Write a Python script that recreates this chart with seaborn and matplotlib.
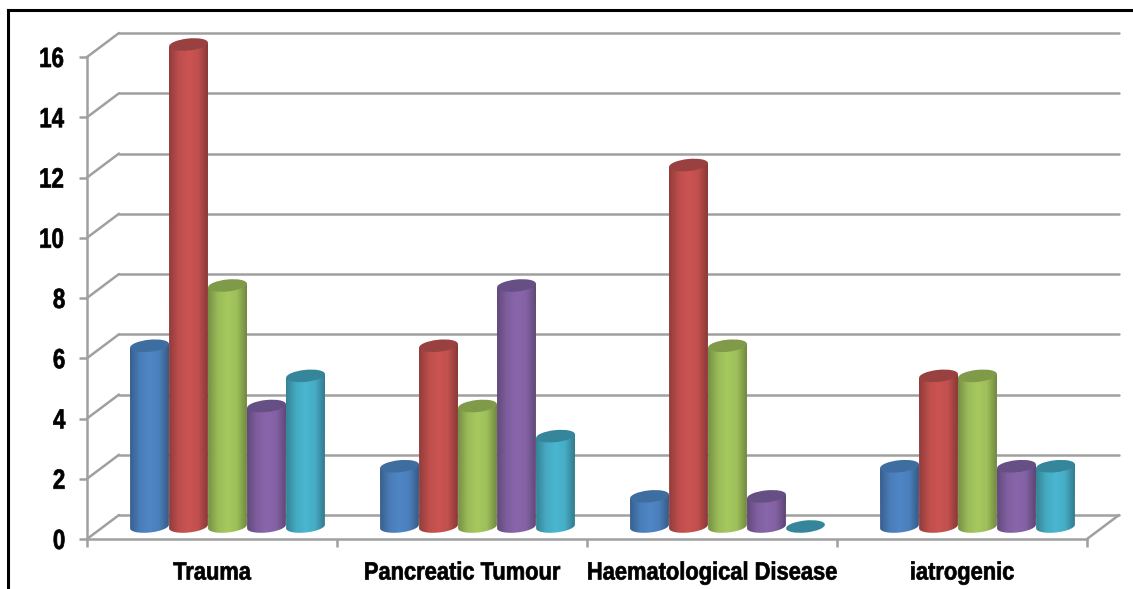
import numpy as np
import pandas as pd
import matplotlib
matplotlib.use('Agg')
import matplotlib.pyplot as plt
import matplotlib.patheffects as pe
import seaborn as sns
from matplotlib.colors import LinearSegmentedColormap, to_rgb
from matplotlib.lines import Line2D
from matplotlib.patches import Ellipse
from matplotlib.path import Path
from matplotlib.transforms import Affine2D, IdentityTransform

categorias = ['Trauma', 'Pancreatic Tumour', 'Haematological Disease', 'iatrogenic']
serie_1 = [6, 2, 1, 2]
serie_2 = [16, 6, 12, 5]
serie_3 = [8, 4, 6, 5]
serie_4 = [4, 8, 1, 2]
serie_5 = [5, 3, 0, 2]
ticks_y = [0, 2, 4, 6, 8, 10, 12, 14, 16]
colores = ['#4F86C6', '#CB5452', '#A6C95F', '#8966AB', '#4AB6D0']
colores_tapa = ['#3E6E9F', '#994140', '#7F9A49', '#664F85', '#35859B']

GRIS = '#A0A0A0'
W, H = 1133, 589


# No hay fuente narrow instalada: angosto el texto en horizontal y lo engroso un poco
class Angosto(pe.AbstractPathEffect):
    def __init__(self, escala):
        super().__init__()
        self.escala = escala

    def draw_path(self, renderer, gc, tpath, affine, rgbFace=None):
        ext = tpath.get_extents()
        cx = (ext.x0 + ext.x1) / 2
        nuevo = Affine2D().translate(-cx, 0).scale(self.escala, 1).translate(cx, 0) + affine
        gc0 = renderer.new_gc()
        gc0.copy_properties(gc)
        gc0.set_linewidth(0.5)
        gc0.set_foreground('black')
        renderer.draw_path(gc0, tpath, nuevo, rgbFace)
        gc0.restore()


df = pd.DataFrame({'categoria': categorias, 's1': serie_1, 's2': serie_2,
                   's3': serie_3, 's4': serie_4, 's5': serie_5})
df = pd.melt(df, id_vars=['categoria'], var_name='serie', value_name='valor')

sns.set_theme(style='white')
plt.rcParams['font.family'] = ['Liberation Sans', 'DejaVu Sans']

fig = plt.figure(figsize=(W / 100, H / 100), dpi=100)
ax = fig.add_axes([87 / W, (H - 539) / H, 1000 / W, 482 / H])

sns.barplot(data=df, x='categoria', y='valor', hue='serie', palette=colores,
            width=0.78, gap=0, legend=False, ax=ax)
ax.set_xlim(-0.5, 3.5)
ax.set_ylim(0, 16)
ax.set_xlabel('')
ax.set_ylabel('')

# Ejes y ticks
for lado in ['top', 'right']:
    ax.spines[lado].set_visible(False)
for lado in ['left', 'bottom']:
    ax.spines[lado].set_color(GRIS)
    ax.spines[lado].set_linewidth(1.8)
ax.set_yticks(ticks_y)
ax.tick_params(axis='y', length=5.5, width=1.8, color=GRIS, pad=9, left=True,
               labelsize=20, labelcolor='black')
ax.tick_params(axis='x', which='major', length=0, pad=15.5, labelsize=18, labelcolor='black')
ax.set_xticks(np.arange(-0.5, 4, 1), minor=True)
ax.tick_params(axis='x', which='minor', length=5.5, width=1.8, color=GRIS, bottom=True)
for t in ax.get_xticklabels():
    t.set_fontweight('bold')
    t.set_path_effects([Angosto(0.875)])
for t in ax.get_yticklabels():
    t.set_fontweight('bold')
    t.set_path_effects([Angosto(0.8)])

fig.canvas.draw()
a_pix = ax.transData.transform


def linea(p, q):
    ax.add_line(Line2D([p[0], q[0]], [p[1], q[1]], transform=IdentityTransform(),
                       color=GRIS, lw=1.8, clip_on=False, zorder=1))


# Paredes del fondo, desplazadas en pixeles
FONDO = np.array([32, 24])
for v in ticks_y:
    izq, der = a_pix((-0.5, v)), a_pix((3.5, v))
    linea(izq, izq + FONDO)
    linea(izq + FONDO, der + FONDO)
der = a_pix((3.5, 0))
linea(der, der + FONDO)

# Cilindros: a cada barra de seaborn le pongo degrade y tapas
MEDIO = np.array([15.5, 12.5])
ALTO_TAPA = 12
ANGULO = 6
barras = [p for p in ax.patches]
n_cat = len(categorias)
for i, barra in enumerate(barras):
    serie = i // n_cat
    x0, y0 = a_pix((barra.get_x(), 0)) + MEDIO
    x1, y1 = a_pix((barra.get_x() + barra.get_width(), barra.get_height())) + MEDIO
    barra.set_visible(False)
    zorder = 3 + serie * 0.1
    inclina = (x1 - x0) / 2 * np.tan(np.radians(ANGULO))
    centro = (x0 + x1) / 2

    if barra.get_height() > 0:
        # contorno: lado superior y media elipse abajo
        t = np.linspace(0, np.pi, 40)
        ex = (x1 - x0) / 2 * np.cos(t)
        ey = -ALTO_TAPA / 2 * np.sin(t)
        c, s = np.cos(np.radians(ANGULO)), np.sin(np.radians(ANGULO))
        arco = np.column_stack([centro + ex * c - ey * s, y0 + ex * s + ey * c])
        puntos = np.vstack([[(x0, y1 - inclina), (x1, y1 + inclina)], arco, [(x0, y1 - inclina)]])
        camino = Path(puntos, closed=True)

        rgb = np.array(to_rgb(colores[serie]))
        cmap = LinearSegmentedColormap.from_list(
            'c', [rgb * 0.72, rgb * 0.93, rgb, rgb * 0.95, rgb * 0.68])
        im = ax.imshow(np.linspace(0, 1, 64).reshape(1, -1), cmap=cmap, aspect='auto',
                       extent=(x0, x1, y0 - ALTO_TAPA, y1 + ALTO_TAPA),
                       transform=IdentityTransform(), zorder=zorder, interpolation='bilinear')
        im.set_clip_box(fig.bbox)
        im.set_clip_path(camino, IdentityTransform())

    ax.add_patch(Ellipse((centro, y1), x1 - x0, ALTO_TAPA, angle=ANGULO,
                         facecolor=colores_tapa[serie], edgecolor='none',
                         transform=IdentityTransform(), clip_on=False, zorder=zorder))

ax.set_xlim(-0.5, 3.5)
ax.set_ylim(0, 16)
ax.set_aspect('auto')

# Marco negro de la imagen original
for xs, ys in [((8 / W, 1), (1 - 10 / H, 1 - 10 / H)), ((8 / W, 8 / W), (0, 1 - 10 / H))]:
    fig.add_artist(Line2D(xs, ys, color='black', lw=2.2, transform=fig.transFigure,
                          solid_capstyle='projecting'))

fig.savefig('out.png', dpi=100)
